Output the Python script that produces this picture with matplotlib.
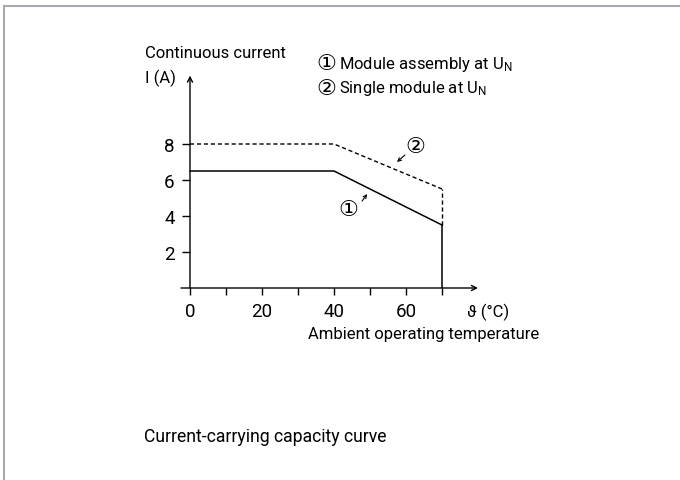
import matplotlib
matplotlib.use("Agg")
import matplotlib.pyplot as plt
from matplotlib.lines import Line2D

# Dados da curva de capacidade de corrente
temperatura = [0, 40, 70]
corrente_conjunto = [6.5, 6.5, 3.5]   # (1) Module assembly at U_N
corrente_modulo = [8, 8, 5.5]         # (2) Single module at U_N
xticks = [0, 10, 20, 30, 40, 50, 60, 70]
xtick_labels = ["0", "", "20", "", "40", "", "60", ""]
yticks = [2, 4, 6, 8]

fonte = ["Roboto", "DejaVu Sans"]
plt.rcParams["font.family"] = fonte
W, H = 680, 481

fig = plt.figure(figsize=(6.8, 4.81), dpi=100)

def fx(px):
    return px / W

def fy(py):
    return 1 - py / H

# moldura cinza (topo e esquerda)
fig.add_artist(Line2D([fx(4), 1], [fy(7), fy(7)], color="#a7abaf", lw=1.5))
fig.add_artist(Line2D([fx(4), fx(4)], [fy(7), 0], color="#a7abaf", lw=1.5))

ax = fig.add_axes([fx(172), fy(316), 324 / W, 261 / H])
ax.set_xlim(-5, 85)
ax.set_ylim(-1.5, 13)
for s in ax.spines.values():
    s.set_visible(False)
ax.spines["bottom"].set_position(("data", 0))
ax.spines["left"].set_position(("data", 0))

ax.set_xticks(xticks)
ax.set_xticklabels(xtick_labels)
ax.set_yticks(yticks)
ax.set_yticklabels([str(v) for v in yticks])
ax.tick_params(axis="x", direction="out", length=5, width=1, pad=5, labelsize=13.5)
ax.tick_params(axis="y", direction="out", length=6, width=1, pad=5, labelsize=13.5)

# eixos com seta
ax.annotate("", xy=(80, 0), xytext=(-2.5, 0),
            arrowprops=dict(arrowstyle="->", lw=1, color="k", shrinkA=0, shrinkB=0,
                            mutation_scale=9), annotation_clip=False)
ax.annotate("", xy=(0, 11.8), xytext=(0, 0),
            arrowprops=dict(arrowstyle="->", lw=1, color="k", shrinkA=0, shrinkB=0,
                            mutation_scale=9), annotation_clip=False)

# curvas
ax.plot(temperatura, corrente_conjunto, color="k", lw=1.1)
ax.vlines(temperatura[-1], 0, corrente_conjunto[-1], color="k", lw=1.1)
ax.plot(temperatura, corrente_modulo, color="k", lw=1, linestyle=(0, (3, 2)))
ax.vlines(temperatura[-1], corrente_conjunto[-1], corrente_modulo[-1], color="k", lw=1,
          linestyle=(0, (3, 2)))

# marcadores das curvas
ax.text(44, 4.4, "\u2460", ha="center", va="center", fontsize=16, family="DejaVu Sans")
ax.annotate("", xy=(49.2, 5.22), xytext=(47.8, 4.83),
            arrowprops=dict(arrowstyle="->", lw=0.8, color="k", shrinkA=0, shrinkB=0,
                            mutation_scale=6))
ax.text(62.5, 7.9, "\u2461", ha="center", va="center", fontsize=16, family="DejaVu Sans")
ax.annotate("", xy=(57.5, 7.0), xytext=(59.7, 7.39),
            arrowprops=dict(arrowstyle="->", lw=0.8, color="k", shrinkA=0, shrinkB=0,
                            mutation_scale=6))

# textos
tam = 12
fig.text(fx(145), fy(54), "Continuous current", fontsize=tam, va="center", ha="left")
fig.text(fx(145), fy(78), "I (A)", fontsize=tam, va="center", ha="left")
fig.text(fx(316), fy(64), "\u2460", fontsize=16, va="center", ha="left", family="DejaVu Sans")
fig.text(fx(339), fy(64), "Module assembly at U$\\mathregular{_N}$", fontsize=tam,
         va="center", ha="left")
fig.text(fx(316), fy(89), "\u2461", fontsize=16, va="center", ha="left", family="DejaVu Sans")
fig.text(fx(339), fy(89), "Single module at U$\\mathregular{_N}$", fontsize=tam,
         va="center", ha="left")
fig.text(fx(467), fy(312), "\u03d1 (°C)", fontsize=tam, va="center", ha="left")
fig.text(fx(308), fy(335), "Ambient operating temperature", fontsize=tam, va="center", ha="left")

fig.text(fx(265), fy(437), "Current-carrying capacity curve", fontsize=12.7, va="center",
         ha="center")

fig.savefig("out.png", dpi=100)
